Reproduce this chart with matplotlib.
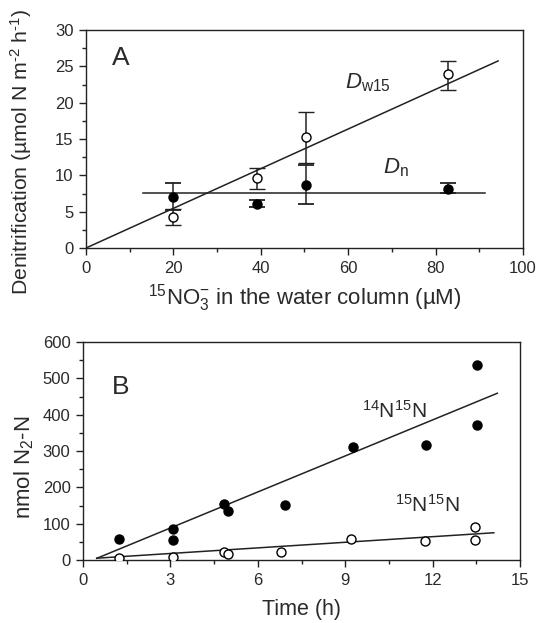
import matplotlib
matplotlib.use("Agg")
import matplotlib.pyplot as plt
from matplotlib.ticker import MultipleLocator

plt.rcParams["font.family"] = ["Liberation Sans", "DejaVu Sans"]
plt.rcParams["mathtext.fontset"] = "custom"
plt.rcParams["mathtext.rm"] = "Liberation Sans"
plt.rcParams["mathtext.it"] = "Liberation Sans:italic"

TEXT = "#2a2a2a"

# Panel A: denitrification vs 15NO3- concentration
a_x = [20.0, 39.2, 50.3, 82.9]
dw15 = [4.3, 9.7, 15.3, 23.9]
dw15_lo = [3.2, 8.1, 11.7, 21.7]
dw15_hi = [5.4, 11.0, 18.7, 25.8]
dn = [7.0, 6.05, 8.7, 8.1]
dn_lo = [5.2, 5.6, 6.0, 7.6]
dn_hi = [9.0, 6.6, 11.4, 8.9]
dw15_fit_x = [0, 94.3]
dw15_slope = 0.273
dn_fit_x = [13, 91.3]
dn_level = 7.55

# Panel B: N2 production over time
t14 = [1.25, 3.1, 3.1, 4.84, 4.97, 6.92, 9.26, 11.78, 13.51, 13.51]
n14n15 = [58, 85, 55, 153, 136, 151, 312, 316, 538, 371]
t15 = [1.25, 3.1, 4.84, 4.97, 6.8, 9.2, 11.75, 13.47, 13.47]
n15n15 = [4.6, 9.2, 23, 17.5, 21, 58.7, 51, 90, 54]
fit14_x = [0.47, 14.22]
fit14_y = [4.6, 459]
fit15_x = [0.47, 14.1]
fit15_y = [5, 75]


def style_axes(ax):
    for sp in ax.spines.values():
        sp.set_linewidth(1.0)
        sp.set_color("#222222")
    ax.tick_params(which="major", direction="out", length=5, width=1.0,
                   labelsize=12, colors="#222222", labelcolor=TEXT, pad=4)
    ax.tick_params(which="minor", direction="out", length=3, width=1.0, colors="#222222")


fig = plt.figure(figsize=(5.36, 6.23), dpi=100)
ax1 = fig.add_axes([0.1604, 0.6019, 0.8153, 0.3499])
ax2 = fig.add_axes([0.1549, 0.1011, 0.8153, 0.3499])

# --- panel A
ax1.plot(dw15_fit_x, [x * dw15_slope for x in dw15_fit_x], color="#222222", lw=1.1)
ax1.plot(dn_fit_x, [dn_level, dn_level], color="#222222", lw=1.1)
ax1.errorbar(a_x, dn, yerr=[[v - l for v, l in zip(dn, dn_lo)], [h - v for v, h in zip(dn, dn_hi)]],
             fmt="o", ms=6.5, mfc="black", mec="black", ecolor="#222222",
             elinewidth=1.1, capsize=6, capthick=1.3, zorder=3)
ax1.errorbar(a_x, dw15, yerr=[[v - l for v, l in zip(dw15, dw15_lo)], [h - v for v, h in zip(dw15, dw15_hi)]],
             fmt="o", ms=6.5, mfc="white", mec="black", mew=1.0, ecolor="#222222",
             elinewidth=1.1, capsize=6, capthick=1.3, zorder=4)
ax1.set_xlim(0, 100)
ax1.set_ylim(0, 30)
ax1.xaxis.set_major_locator(MultipleLocator(20))
ax1.xaxis.set_minor_locator(MultipleLocator(10))
ax1.yaxis.set_major_locator(MultipleLocator(5))
ax1.yaxis.set_minor_locator(MultipleLocator(2.5))
style_axes(ax1)
ax1.set_xlabel(r"$^{15}$NO$_3^{-}$ in the water column (µM)", fontsize=16, color=TEXT, labelpad=5)
ax1.set_ylabel(r"Denitrification (µmol N m$^{\text{-}2}$ h$^{\text{-}1}$)", fontsize=15.3, color=TEXT)
ax1.yaxis.set_label_coords(-0.118, 0.443)
ax1.text(6, 25.2, "A", fontsize=19, color=TEXT)
ax1.text(59.3, 21.9, r"$D_{\mathrm{w15}}$", fontsize=16, color=TEXT)
ax1.text(68, 10.3, r"$D_{\mathrm{n}}$", fontsize=16, color=TEXT)

# --- panel B
ax2.plot(fit14_x, fit14_y, color="#222222", lw=1.1)
ax2.plot(fit15_x, fit15_y, color="#222222", lw=1.1)
ax2.plot(t14, n14n15, "o", ms=6.5, mfc="black", mec="black", zorder=3)
ax2.plot(t15, n15n15, "o", ms=6.5, mfc="white", mec="black", mew=1.0, zorder=3)
ax2.set_xlim(0, 15)
ax2.set_ylim(0, 600)
ax2.xaxis.set_major_locator(MultipleLocator(3))
ax2.xaxis.set_minor_locator(MultipleLocator(1.5))
ax2.yaxis.set_major_locator(MultipleLocator(100))
ax2.yaxis.set_minor_locator(MultipleLocator(50))
style_axes(ax2)
ax2.set_xlabel("Time (h)", fontsize=15.5, color=TEXT, labelpad=8)
ax2.set_ylabel(r"nmol N$_2$-N", fontsize=16, color=TEXT)
ax2.yaxis.set_label_coords(-0.108, 0.427)
ax2.text(1.0, 457, "B", fontsize=19, color=TEXT)
ax2.text(10.7, 392, r"$^{14}$N$^{15}$N", fontsize=15, color=TEXT, ha="center")
ax2.text(11.8, 132, r"$^{15}$N$^{15}$N", fontsize=15, color=TEXT, ha="center")

fig.savefig("out.png", dpi=100)
